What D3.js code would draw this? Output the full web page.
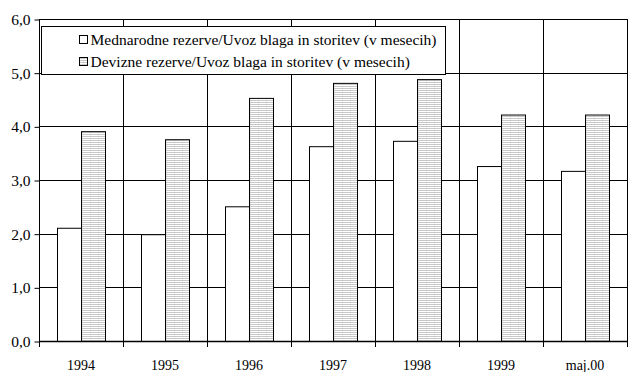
<!DOCTYPE html>
<html>
<head>
<meta charset="utf-8">
<script src="https://cdn.jsdelivr.net/npm/d3@7/dist/d3.min.js"></script>
<style>
  html, body { margin: 0; padding: 0; background: #fff; }
  svg { display: block; }
  svg text { font-family: "Times New Roman", "Liberation Serif", Times, "DejaVu Serif", serif; fill: #000; }
</style>
</head>
<body>
<svg id="chart" width="636" height="372"></svg>
<script>
// Reserves expressed in months of imports of goods and services
const categories = ["1994", "1995", "1996", "1997", "1998", "1999", "maj.00"];
const mednarodne = [2.11, 1.99, 2.51, 3.63, 3.73, 3.26, 3.17];
const devizne    = [3.91, 3.76, 4.53, 4.81, 4.88, 4.22, 4.22];
const seriesNames = [
  "Mednarodne rezerve/Uvoz blaga in storitev (v mesecih)",
  "Devizne rezerve/Uvoz blaga in storitev (v mesecih)"
];
const yTicks = [0, 1, 2, 3, 4, 5, 6];

const FONT = '"Times New Roman", "Liberation Serif", Times, "DejaVu Serif", serif';
const svg = d3.select("#chart");
const margin = { left: 39, right: 9, top: 19, bottom: 31 };
const W = 636, H = 372;
const x0 = margin.left, x1 = W - margin.right;
const y0 = H - margin.bottom, y1 = margin.top;

const x = d3.scaleBand().domain(categories).range([x0, x1]).paddingInner(0).paddingOuter(0);
const y = d3.scaleLinear().domain([0, 6]).range([y0, y1]);
// two adjacent bars centred in each band, 18px gap on both sides of an 84px band
const inner = d3.scaleBand().domain([0, 1]).range([0, x.bandwidth()]).paddingInner(0).paddingOuter(0.75);

// hatch fill for the second series
const defs = svg.append("defs");
const pat = defs.append("pattern")
  .attr("id", "hatch").attr("patternUnits", "userSpaceOnUse")
  .attr("width", 8).attr("height", 2);
pat.append("rect").attr("width", 8).attr("height", 2).attr("fill", "#fff");
pat.append("rect").attr("x", 0).attr("y", 0).attr("width", 8).attr("height", 1).attr("fill", "#c8c8c8");
pat.append("rect").attr("x", 3).attr("y", 1).attr("width", 1).attr("height", 1).attr("fill", "#ececec");

// horizontal gridlines
svg.append("g").selectAll("line").data(yTicks.slice(1)).join("line")
  .attr("x1", x0).attr("x2", x1)
  .attr("y1", d => Math.round(y(d)) + 0.5).attr("y2", d => Math.round(y(d)) + 0.5)
  .attr("stroke", "#000").attr("stroke-width", 1);

// vertical gridlines at category boundaries
svg.append("g").selectAll("line").data(categories.slice(1)).join("line")
  .attr("x1", d => Math.round(x(d)) + 0.5).attr("x2", d => Math.round(x(d)) + 0.5)
  .attr("y1", y1).attr("y2", y0)
  .attr("stroke", "#000").attr("stroke-width", 1);

// right border
svg.append("line")
  .attr("x1", x1 + 0.5).attr("x2", x1 + 0.5).attr("y1", y1).attr("y2", y0)
  .attr("stroke", "#000");

// bars
const groups = svg.append("g").selectAll("g").data(categories).join("g")
  .attr("transform", d => `translate(${x(d)},0)`);

groups.append("rect")
  .attr("x", inner(0) + 0.5)
  .attr("y", (d, i) => y(mednarodne[i]) + 0.5)
  .attr("width", inner.bandwidth())
  .attr("height", (d, i) => y(0) - y(mednarodne[i]))
  .attr("fill", "#fff").attr("stroke", "#000").attr("stroke-width", 1);

groups.append("rect")
  .attr("x", inner(1) + 0.5)
  .attr("y", (d, i) => y(devizne[i]) + 0.5)
  .attr("width", inner.bandwidth())
  .attr("height", (d, i) => y(0) - y(devizne[i]))
  .attr("fill", "url(#hatch)").attr("stroke", "#000").attr("stroke-width", 1);

// y axis
const yAxis = d3.axisLeft(y).tickValues(yTicks).tickSize(5).tickPadding(4)
  .tickFormat(d => d3.format(".1f")(d).replace(".", ","));
const gy = svg.append("g").attr("transform", `translate(${x0 + 0.5},0.5)`).call(yAxis);
gy.attr("font-family", FONT).attr("font-size", 15.5);
gy.select(".domain").attr("stroke", "#000").attr("d", `M0,${y1}V${y0}`);
gy.selectAll(".tick line").attr("stroke", "#000");
gy.selectAll(".tick text").style("font-family", FONT).attr("font-size", 15.5).attr("fill", "#000");

// x axis baseline, boundary ticks and labels
svg.append("line").attr("x1", x0).attr("x2", x1 + 1)
  .attr("y1", y0 + 0.5).attr("y2", y0 + 0.5).attr("stroke", "#000").attr("stroke-width", 1.5);
svg.append("g").selectAll("line").data(categories.map(c => x(c)).concat([x1])).join("line")
  .attr("x1", d => Math.round(d) + 0.5).attr("x2", d => Math.round(d) + 0.5)
  .attr("y1", y0).attr("y2", y0 + 6).attr("stroke", "#000");
svg.append("g").selectAll("text").data(categories).join("text")
  .attr("x", d => x(d) + x.bandwidth() / 2)
  .attr("y", y0 + 29)
  .attr("text-anchor", "middle").attr("font-size", 14)
  .style("font-family", FONT)
  .text(d => d);

// legend
const lg = svg.append("g");
lg.append("rect").attr("x", 41.5).attr("y", 26.5).attr("width", 404).attr("height", 48)
  .attr("fill", "#fff").attr("stroke", "#000").attr("stroke-width", 1);
const fills = ["#fff", "url(#hatch)"];
seriesNames.forEach((name, i) => {
  const base = 45 + i * 22;
  lg.append("rect").attr("x", 79.5).attr("y", base - 9.5).attr("width", 8).attr("height", 8)
    .attr("fill", fills[i]).attr("stroke", "#000").attr("stroke-width", 1);
  lg.append("text").attr("x", 90.5).attr("y", base).attr("font-size", 15.5)
    .style("font-family", FONT).text(name);
});
</script>
</body>
</html>
